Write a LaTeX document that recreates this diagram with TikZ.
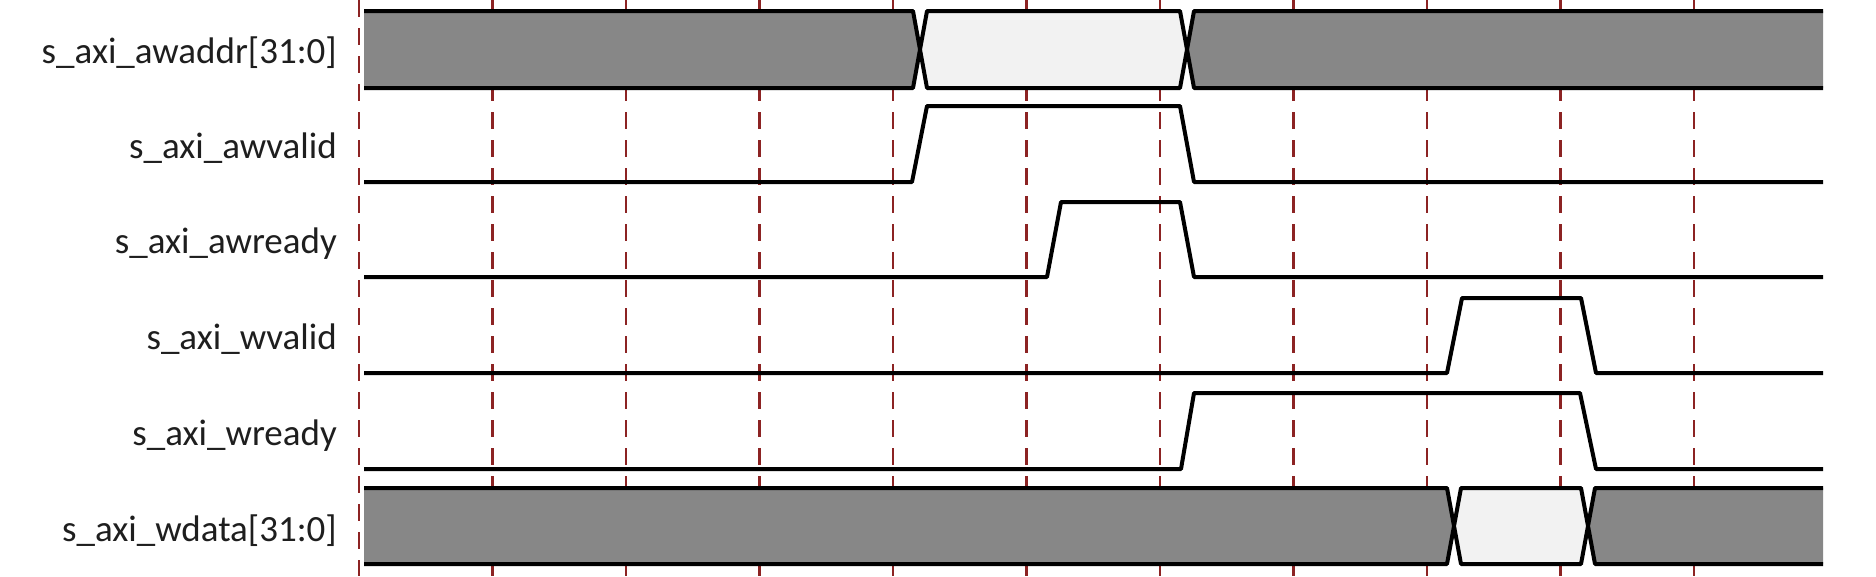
\documentclass[tikz,border=0pt]{standalone}
\usepackage{fontspec}
\setmainfont{Carlito}
\definecolor{gridred}{RGB}{140,35,35}
\definecolor{busgray}{RGB}{135,135,135}
\definecolor{buslight}{RGB}{242,242,242}
\definecolor{labeltext}{RGB}{30,30,30}
\begin{document}
\begin{tikzpicture}[x=1pt,y=-1pt,
  gridline/.style={draw=gridred,line width=2.5pt,dash pattern=on 17pt off 11pt},
  sig/.style={draw=black,line width=4pt,line join=round},
  darkbus/.style={fill=busgray},
  lightbus/.style={fill=buslight},
  siglabel/.style={anchor=base east,inner sep=0pt,text=labeltext,font=\fontsize{37}{40}\selectfont}]
\useasboundingbox (0,0) rectangle (1876,576);
% grid lines
\foreach \k in {0,...,10}{
  \draw[gridline] (359+133.5*\k,0) -- (359+133.5*\k,576);
}
% labels
\node[siglabel] (l1) at (337,63) {s\_axi\_awaddr[31:0]};
\node[siglabel] (l2) at (337,158) {s\_axi\_awvalid};
\node[siglabel] (l3) at (337,253) {s\_axi\_awready};
\node[siglabel] (l4) at (337,349) {s\_axi\_wvalid};
\node[siglabel] (l5) at (337,445) {s\_axi\_wready};
\node[siglabel] (l6) at (337,541) {s\_axi\_wdata[31:0]};
% awaddr bus
\fill[darkbus] (364,11) -- (913,11) -- (920,49.5) -- (913,88) -- (364,88) -- cycle;
\draw[sig] (364,11) -- (913,11) -- (920,49.5) -- (913,88) -- (364,88);
\fill[lightbus] (927,11) -- (1180,11) -- (1187,49.5) -- (1180,88) -- (927,88) -- (920,49.5) -- cycle;
\draw[sig] (927,11) -- (1180,11) -- (1187,49.5) -- (1180,88) -- (927,88) -- (920,49.5) -- cycle;
\fill[darkbus] (1823,11) -- (1194,11) -- (1187,49.5) -- (1194,88) -- (1823,88) -- cycle;
\draw[sig] (1823,11) -- (1194,11) -- (1187,49.5) -- (1194,88) -- (1823,88);
% awvalid
\draw[sig] (364,182) -- (912,182) -- (927,106) -- (1180,106) -- (1194,182) -- (1823,182);
% awready
\draw[sig] (364,277) -- (1047,277) -- (1061,202) -- (1180,202) -- (1194,277) -- (1823,277);
% wvalid
\draw[sig] (364,373) -- (1447,373) -- (1462,298) -- (1581,298) -- (1596,373) -- (1823,373);
% wready
\draw[sig] (364,469) -- (1181,469) -- (1194,393) -- (1580,393) -- (1596,469) -- (1823,469);
% wdata bus
\fill[darkbus] (364,488) -- (1447,488) -- (1454,526) -- (1447,564) -- (364,564) -- cycle;
\draw[sig] (364,488) -- (1447,488) -- (1454,526) -- (1447,564) -- (364,564);
\fill[lightbus] (1461,488) -- (1581,488) -- (1588,526) -- (1581,564) -- (1461,564) -- (1454,526) -- cycle;
\draw[sig] (1461,488) -- (1581,488) -- (1588,526) -- (1581,564) -- (1461,564) -- (1454,526) -- cycle;
\fill[darkbus] (1823,488) -- (1595,488) -- (1588,526) -- (1595,564) -- (1823,564) -- cycle;
\draw[sig] (1823,488) -- (1595,488) -- (1588,526) -- (1595,564) -- (1823,564);
\end{tikzpicture}
\end{document}
